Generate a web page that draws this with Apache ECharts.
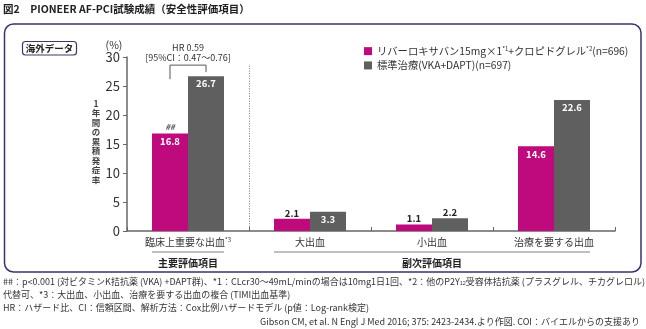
<!DOCTYPE html>
<html>
<head>
<meta charset="utf-8">
<script src="https://cdn.jsdelivr.net/npm/echarts@6/dist/echarts.min.js"></script>
<style>
html,body{margin:0;padding:0;background:#fff;}
#c{width:646px;height:329px;}
</style>
</head>
<body>
<div id="c"></div>
<script>
const categories = ['臨床上重要な出血', '大出血', '小出血', '治療を要する出血'];
const rivaroxaban = [16.8, 2.1, 1.1, 14.6];
const standard = [26.7, 3.3, 2.2, 22.6];
const yTicks = [0, 5, 10, 15, 20, 25, 30];
const seriesNames = ['リバーロキサバン15mg×1*1+クロピドグレル*2(n=696)', '標準治療(VKA+DAPT)(n=697)'];
const groups = [{label: '主要評価項目', from: 0, to: 0}, {label: '副次評価項目', from: 1, to: 3}];
const hrText = ['HR 0.59', '[95%CI：0.47〜0.76]'];
const yAxisName = '1年間の累積発症率';

const FONT = '"Noto Sans CJK JP", "Noto Sans", sans-serif';
const MAGENTA = '#be0a7c';
const GRAY = '#5f5f5f';
const BAR_W = 36;

const chart = echarts.init(document.getElementById('c'), null, {renderer: 'canvas'});

function dataItems(values) {
  return values.map(v => ({
    value: v,
    label: v > 3
      ? {position: 'insideTop', distance: 3, color: '#fff'}
      : {position: 'top', distance: 1, color: '#222'}
  }));
}

const barLabel = {show: true, fontSize: 9.5, fontWeight: 'bold', fontFamily: FONT};

chart.setOption({
  animation: false,
  textStyle: {fontFamily: FONT},
  grid: {left: 127, right: 31, top: 57, bottom: 98, containLabel: false},
  legend: {
    orient: 'vertical', left: 359, top: 41, itemWidth: 8, itemHeight: 8, itemGap: 4,
    icon: 'rect',
    textStyle: {fontSize: 10.3, color: '#333', fontFamily: FONT,
      rich: {sup: {fontSize: 6, verticalAlign: 'top', color: '#333', padding: [0, 0, 4, 0]}}},
    formatter: function (name) {
      return name.replace(/\*(\d)/g, '{sup|*$1}');
    },
    data: seriesNames
  },
  xAxis: {
    type: 'category', data: categories,
    axisLine: {lineStyle: {color: '#666', width: 1.5}},
    axisTick: {show: true, inside: true, length: 4, lineStyle: {color: '#666', width: 1}},
    axisLabel: {
      interval: 0,
      fontSize: 10, color: '#333', margin: 6, fontFamily: FONT,
      formatter: function (v, i) { return i === 0 ? v + '{sup|*3}' : v; },
      rich: {sup: {fontSize: 6, verticalAlign: 'top', padding: [0, 0, 4, 0], color: '#333'}}
    }
  },
  yAxis: {
    type: 'value', min: yTicks[0], max: yTicks[yTicks.length - 1], interval: yTicks[1] - yTicks[0],
    axisLine: {show: true, lineStyle: {color: '#666', width: 1.5}},
    axisTick: {show: true, length: 4, lineStyle: {color: '#666', width: 1}},
    splitLine: {show: false},
    axisLabel: {fontSize: 13, color: '#333', margin: 7, fontFamily: FONT}
  },
  series: [
    {name: seriesNames[0], type: 'bar', barWidth: BAR_W, barGap: '0%', itemStyle: {color: MAGENTA},
     label: barLabel, data: dataItems(rivaroxaban)},
    {name: seriesNames[1], type: 'bar', barWidth: BAR_W, barGap: '0%', itemStyle: {color: GRAY},
     label: barLabel, data: dataItems(standard)}
  ]
});

function px(ci, v) { return chart.convertToPixel({gridIndex: 0}, [ci, v]); }

const g = [];
// frame
g.push({type: 'rect', shape: {x: 4.5, y: 24, width: 636.5, height: 248, r: 9},
  style: {fill: 'none', stroke: '#36356e', lineWidth: 1.5}, silent: true});
// title
g.push({type: 'text', left: 3, top: 4, style: {text: '図2　PIONEER AF-PCI試験成績（安全性評価項目）',
  font: 'bold 10.5px ' + FONT, fill: '#222'}});
// badge
g.push({type: 'rect', shape: {x: 22.5, y: 41.5, width: 54, height: 13.5, r: 3},
  style: {fill: '#fff', stroke: '#3a3a6a', lineWidth: 1.2}});
g.push({type: 'text', x: 49.5, y: 48.5, style: {text: '海外データ', font: 'bold 9.5px ' + FONT, fill: '#222',
  textAlign: 'center', textVerticalAlign: 'middle'}});
// (%)
g.push({type: 'text', x: 114, y: 45, style: {text: '(%)', font: '10.5px ' + FONT, fill: '#333',
  textAlign: 'center', textVerticalAlign: 'middle'}});
// y axis name (vertical)
g.push({type: 'text', x: 96, y: 99, style: {text: yAxisName.split('').join('\n'), font: 'bold 8.5px ' + FONT,
  lineHeight: 9.5, fill: '#444', textAlign: 'center', textVerticalAlign: 'top'}});

// dotted separator between primary and secondary
const c0 = px(0, 0), c1 = px(1, 0);
const sepX = Math.round((c0[0] + c1[0]) / 2) + 0.5;
g.push({type: 'line', shape: {x1: sepX, y1: px(0, 28.5)[1], x2: sepX, y2: c0[1]},
  style: {stroke: '#777', lineWidth: 1, lineDash: [1, 1.5]}});

// HR bracket
const magTop = px(0, rivaroxaban[0]);
const grayTop = px(0, standard[0]);
const lx = magTop[0] - BAR_W / 2, rx = grayTop[0] + BAR_W / 2;
const by = px(0, 28.6)[1];
g.push({type: 'polyline', shape: {points: [[lx, by + 14], [lx, by], [rx, by], [rx, grayTop[1] - 4]]},
  style: {stroke: '#555', lineWidth: 1, fill: 'none'}});
g.push({type: 'text', x: (lx + rx) / 2, y: 48, style: {text: hrText[0], font: '9px ' + FONT, fill: '#333',
  textAlign: 'center', textVerticalAlign: 'middle'}});
g.push({type: 'text', x: (lx + rx) / 2, y: 57.5, style: {text: hrText[1], font: '9px ' + FONT, fill: '#333',
  textAlign: 'center', textVerticalAlign: 'middle'}});
// ## mark
g.push({type: 'text', x: lx, y: magTop[1] - 7, style: {text: '##', font: 'italic bold 8px ' + FONT, fill: '#555',
  textAlign: 'center', textVerticalAlign: 'middle'}});

// group lines & labels
groups.forEach(gr => {
  const a = px(gr.from, 0)[0] - BAR_W, b = px(gr.to, 0)[0] + BAR_W;
  g.push({type: 'line', shape: {x1: a, y1: 252, x2: b, y2: 252}, style: {stroke: '#aaa', lineWidth: 1.5}});
  g.push({type: 'text', x: (a + b) / 2, y: 263, style: {text: gr.label, font: 'bold 10px ' + FONT, fill: '#222',
    textAlign: 'center', textVerticalAlign: 'middle'}});
});

// footnotes
const fnFont = '9px ' + FONT;
const notes = [
  {x: 3, y: 282, align: 'left', text: '##：p<0.001 (対ビタミンK拮抗薬 (VKA) +DAPT群)、*1：CLcr30〜49mL/minの場合は10mg1日1回、*2：他のP2Y{sub|12}受容体拮抗薬 (プラスグレル、チカグレロル) に'},
  {x: 3, y: 295, align: 'left', text: '代替可、*3：大出血、小出血、治療を要する出血の複合 (TIMI出血基準)'},
  {x: 3, y: 308, align: 'left', text: 'HR：ハザード比、CI：信頼区間、解析方法：Cox比例ハザードモデル (p値：Log-rank検定)'},
  {x: 640, y: 322, align: 'right', text: 'Gibson CM, et al. N Engl J Med 2016; 375: 2423-2434.より作図. COI：バイエルからの支援あり'}
];
notes.forEach(n => {
  g.push({type: 'text', x: n.x, y: n.y, style: {text: n.text, font: fnFont, fill: '#333', textAlign: n.align,
    textVerticalAlign: 'middle', rich: {sub: {fontSize: 5.5, verticalAlign: 'bottom', fill: '#333'}}}});
});

chart.setOption({graphic: g});
</script>
</body>
</html>
